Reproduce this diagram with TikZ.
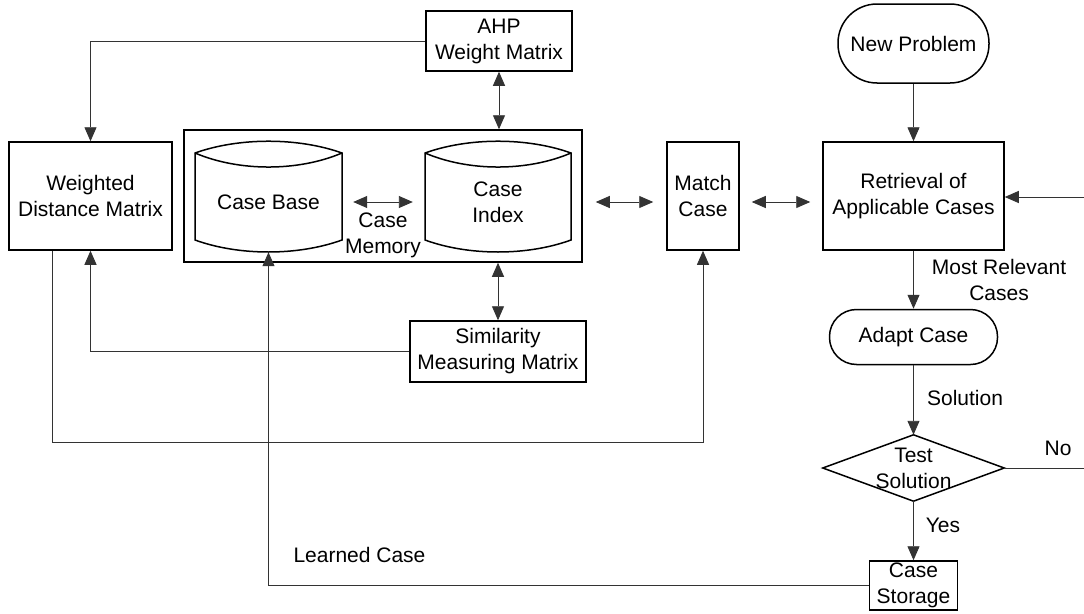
\documentclass[tikz,border=0pt]{standalone}
\usepackage{fontspec}
\setmainfont{Liberation Sans}
\usetikzlibrary{arrows.meta,calc}
\newcommand\mycyl[2]{%
 \draw[line width=1.5pt] (#1,153) -- (#1,240) .. controls ({#1+0.3*(#2-#1)},256) and ({#2-0.3*(#2-#1)},256) .. (#2,240) -- (#2,153) .. controls ({#2-0.3*(#2-#1)},137.3) and ({#1+0.3*(#2-#1)},137.3) .. (#1,153) -- cycle;
 \draw[line width=1.5pt] (#1,153) .. controls ({#1+0.3*(#2-#1)},171.7) and ({#2-0.3*(#2-#1)},171.7) .. (#2,153);
}
\begin{document}
\begin{tikzpicture}[x=1pt,y=-1pt,
  every node/.style={font=\fontsize{21}{26}\selectfont, inner sep=0pt, align=center},
  box/.style={draw, line width=1.5pt},
  conn/.style={draw=black!80, line width=0.9pt},
  arr/.style={conn, -{Triangle[length=14pt,width=12pt]}},
  darr/.style={conn, {Triangle[length=14pt,width=12pt]}-{Triangle[length=14pt,width=12pt]}}
]
\useasboundingbox (0,0) rectangle (1084,613);
\fill[white] (0,0) rectangle (1084,613);

\node[box, minimum width=146pt, minimum height=60pt] (ahp) at (499,41) {AHP\\Weight Matrix};
\node[box, minimum width=163pt, minimum height=108pt] (wdm) at (90.5,196) {Weighted\\Distance Matrix};
\node[box, minimum width=398pt, minimum height=132pt] (mem) at (383,196) {};
\node[minimum width=147pt, minimum height=110pt] (cb) at (268.5,197) {};
\node[minimum width=146pt, minimum height=110pt] (ci) at (498,197) {};
\mycyl{195}{342}
\mycyl{425}{571}
\node (cbt) at (268.5,202) {Case Base};
\node (cit) at (498,202) {Case\\Index};
\node (memt) at (383,235) {Case\\Memory};
\node[box, minimum width=72pt, minimum height=108pt] (match) at (703,196) {Match\\Case};
\node[box, minimum width=181pt, minimum height=108pt] (ret) at (913.5,196) {Retrieval of\\Applicable Cases};
\node[box, rounded corners=39pt, minimum width=151pt, minimum height=79pt] (np) at (913.5,43.5) {New Problem};
\node[box, rounded corners=27pt, minimum width=168pt, minimum height=55pt] (adapt) at (913.5,337) {Adapt Case};
\node[minimum width=181pt, minimum height=66pt] (dia) at (913.5,468) {Test\\Solution};
\draw[line width=1.5pt] (dia.north) -- (dia.east) -- (dia.south) -- (dia.west) -- cycle;
\node[box, minimum width=176pt, minimum height=61pt] (sim) at (498,351.5) {Similarity\\Measuring Matrix};
\node[box, minimum width=88pt, minimum height=49pt] (cs) at (913.5,585.5) {Case\\Storage};

\draw[arr] (ahp.west) -| (wdm.north);
\draw[darr] (ahp.south) -- (ahp.south |- mem.north);
\draw[darr] (sim.north |- mem.south) -- (sim.north);
\draw[arr] (sim.west) -| (wdm.south);
\coordinate (c1) at (52,442);
\draw[arr] (wdm.south -| c1) -- (c1) -| (match.south);
\draw[arr] (cs.west) -| (cb.south);
\draw[darr, shorten <=11pt, shorten >=12pt] ([yshift=-5pt]cb.east) -- ([yshift=-5pt]ci.west);
\draw[darr, shorten <=13pt, shorten >=13pt] ([yshift=-6pt]mem.east) -- ([yshift=-6pt]match.west);
\draw[darr, shorten <=12pt, shorten >=12pt] ([yshift=-6pt]match.east) -- ([yshift=-6pt]ret.west);
\draw[arr] (np.south) -- (ret.north);
\coordinate (rin) at (1084,197);
\draw[arr] (rin) -- (rin -| ret.east);
\draw[arr] (ret.south) -- (adapt.north);
\draw[arr] (adapt.south) -- (dia.north);
\draw[arr] (dia.south) -- (cs.north);
\coordinate (nout) at (1084,468);
\draw[conn] (dia.east) -- (nout);

\node (l1) at (999,280) {Most Relevant\\Cases};
\node (l2) at (965,398) {Solution};
\node (l3) at (943,525) {Yes};
\node (l4) at (1058,448) {No};
\node (l5) at (359.5,555) {Learned Case};
\end{tikzpicture}
\end{document}
